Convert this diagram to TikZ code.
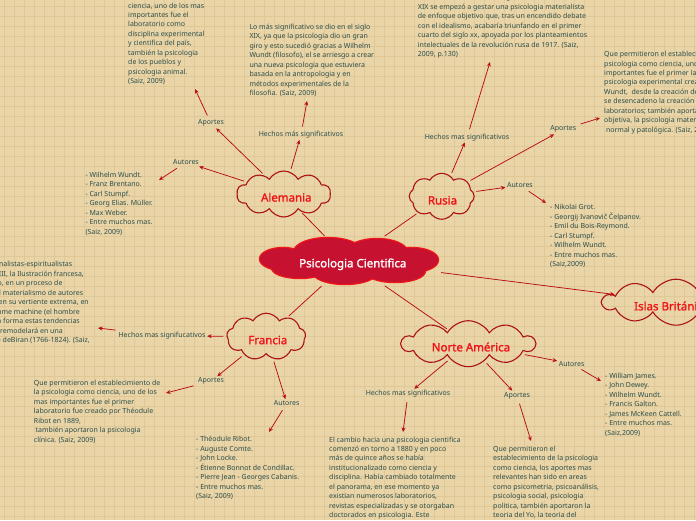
\documentclass[tikz,border=0pt]{standalone}
\usepackage{fontspec}
\setmainfont{Noto Sans}
\newfontfamily\cloudfont{Noto Sans}[FakeBold=1.6]
\usetikzlibrary{shapes.symbols,arrows.meta}
\definecolor{bgc}{RGB}{233,213,168}
\definecolor{gridc}{RGB}{224,200,150}
\definecolor{tcol}{RGB}{45,78,74}
\definecolor{linkc}{RGB}{185,12,22}
\definecolor{cloudline}{RGB}{172,18,24}
\definecolor{cloudtext}{RGB}{238,20,24}
\definecolor{centralfill}{RGB}{198,18,48}
\definecolor{centralline}{RGB}{242,22,22}
\tikzset{
  country/.style={cloud, cloud puffs=10, cloud puff arc=120, cloud ignores aspect, draw=cloudline, line width=1.1pt, inner sep=0pt},
  ctext/.style={font=\fontsize{11.5}{13}\cloudfont, text=cloudtext, inner sep=0pt},
  lab/.style={font=\fontsize{7}{9.45}\selectfont, text=tcol, inner sep=1.5pt},
  txt/.style={font=\fontsize{7}{9.45}\selectfont, text=tcol, align=left, inner sep=0pt, anchor=base west},
  rtxt/.style={font=\fontsize{7}{9.45}\selectfont, text=tcol, inner sep=0pt, anchor=base east},
  link/.style={draw=linkc, line width=0.75pt, shorten <=2pt, shorten >=2pt},
  arr/.style={draw=linkc, line width=0.75pt, -{Stealth[length=4.5pt,width=4pt]}, shorten <=3pt},
}
\begin{document}
\begin{tikzpicture}[x=1pt,y=-1pt]
\useasboundingbox (0,0) rectangle (696,520);
\clip (0,0) rectangle (696,520);
\fill[bgc] (0,0) rectangle (696,520);
\foreach \i in {4,14,...,694} \draw[gridc, line width=0.6pt] (\i,0) -- (\i,520);
\foreach \j in {6,16,...,516} \draw[gridc, line width=0.6pt] (0,\j) -- (696,\j);

% central cloud (union of lobes)
\foreach \cx/\cy/\rx/\ry in {283/259/23/11, 328/252/34/14, 377/252/30/13, 412/260/26/12, 300/268/28/10, 345/272/32/12, 395/271/30/11}
  \draw[centralline, line width=2.4pt] (\cx,\cy) ellipse [x radius=\rx, y radius=\ry];
\foreach \cx/\cy/\rx/\ry in {283/259/23/11, 328/252/34/14, 377/252/30/13, 412/260/26/12, 300/268/28/10, 345/272/32/12, 395/271/30/11, 349/261/75/15}
  \fill[centralfill] (\cx,\cy) ellipse [x radius=\rx, y radius=\ry];
\node[minimum width=178pt, minimum height=47pt, inner sep=0pt] (central) at (349,261) {};
\node[ctext, text=white] (centralT) at (352.8,264.3) {Psicologia Cientifica};

% country clouds
\node[country, minimum width=94pt, minimum height=46pt] (alemania) at (283.7,194) {};
\node[ctext] (alemaniaT) at (286.3,197.3) {Alemania};
\node[country, cloud puffs=8, minimum width=65pt, minimum height=46pt] (rusia) at (441.7,196.3) {};
\node[ctext] (rusiaT) at (442.5,200.3) {Rusia};
\node[country, cloud puffs=9, minimum width=79pt, minimum height=47pt] (francia) at (266.2,336.7) {};
\node[ctext] (franciaT) at (267.8,340) {Francia};
\node[country, minimum width=133pt, minimum height=46pt] (na) at (468.3,343.7) {};
\node[ctext] (naT) at (471,347) {Norte América};
\node[country, minimum width=146pt, minimum height=46pt] (islas) at (676,302.2) {};
\node[ctext, anchor=west] (islasT) at (634,306) {Islas Británicas};

% connectors from centre
\draw[link] (central) -- (alemania);
\draw[link] (central) -- (rusia);
\draw[link] (central) -- (francia);
\draw[link] (central) -- (na);
\draw[arr, shorten >=1pt] (central) -- (islas);

% ---------- Alemania ----------
\node[lab] (aportesA) at (211,123.3) {Aportes};
\node[lab] (autoresA) at (186,162.3) {Autores};
\node[lab] (hechosA) at (301,134.7) {Hechos más significativos};
\coordinate (tAportesA) at (195,89);
\coordinate (tAutoresA) at (159,180);
\coordinate (tHechosA) at (307,101);
\draw[arr] (alemania) -- (aportesA);
\draw[arr] (alemania) -- (autoresA);
\draw[arr] (alemania) -- (hechosA);
\draw[arr] (aportesA) -- (tAportesA);
\draw[arr] (autoresA) -- (tAutoresA);
\draw[arr] (hechosA) -- (tHechosA);
\node[txt] (aportesAT) at (128,83.6) {la psicologia como\\ciencia, uno de los mas\\importantes fue el\\laboratorio como\\disciplina experimental\\y cientifica del país,\\también la psicologia\\de los pueblos y\\psicologia animal.\\(Saiz, 2009)};
\node[txt] (hechosAT) at (249.3,95.6) {Lo más significativo se dio en el siglo\\XIX, ya que la psicologia dio un gran\\giro y esto sucedió gracias a Wilhelm\\Wundt (filosofo), el se arriesgo a crear\\una nueva psicologia que estuviera\\basada en la antropologia y en\\métodos experimentales de la\\filosofia. (Saiz, 2009)};
\node[txt] (autoresAT) at (85.3,234.2) {- Wilhelm Wundt.\\- Franz Brentano.\\- Carl Stumpf.\\- Georg Elias. Müller.\\- Max Weber.\\- Entre muchos mas.\\(Saiz, 2009)};

% ---------- Rusia ----------
\node[lab] (hechosR) at (467,137.3) {Hechos mas significativos};
\node[lab] (aportesR) at (563.3,129.3) {Aportes};
\node[lab] (autoresR) at (520,185.3) {Autores};
\coordinate (tHechosR) at (490,62);
\coordinate (tAportesR) at (600,118);
\coordinate (tAutoresR) at (546,203);
\draw[arr] (rusia) -- (hechosR);
\draw[arr] (rusia) -- (aportesR);
\draw[arr] (rusia) -- (autoresR);
\draw[arr] (hechosR) -- (tHechosR);
\draw[arr] (aportesR) -- (tAportesR);
\draw[arr] (autoresR) -- (tAutoresR);
\node[txt] (hechosRT) at (417.7,56.6) {En Rusia, a mediados del siglo\\XIX se empezó a gestar una psicologia materialista\\de enfoque objetivo que, tras un encendido debate\\con el idealismo, acabaría triunfando en el primer\\cuarto del siglo xx, apoyada por los planteamientos\\intelectuales de la revolución rusa de 1917. (Saiz,\\2009, p.130)};
\node[txt] (aportesRT) at (604,132.2) {Que permitieron el establecimiento de la\\psicologia como ciencia, uno de los mas\\importantes fue el primer laboratorio de\\psicologia experimental creado por Wilhelm\\Wundt,\ \ desde la creación de este laboratorio\\se desencadeno la creación de muchos otros\\laboratorios; también aportaron la psicologia\\objetiva, la psicologia materialista\\\hspace*{1.8pt}normal y patológica. (Saiz, 2009)};
\node[txt] (autoresRT) at (550,266.6) {- Nikolai Grot.\\- Georgij Ivanovič Čelpanov.\\- Emil du Bois-Reymond.\\- Carl Stumpf.\\- Wilhelm Wundt.\\- Entre muchos mas.\\(Saiz,2009)};

% ---------- Francia ----------
\node[lab] (hechosF) at (162,335.7) {Hechos mas signifucativos};
\node[lab] (aportesF) at (211,381.3) {Aportes};
\node[lab] (autoresF) at (286.7,403.3) {Autores};
\coordinate (tHechosF) at (98,328);
\coordinate (tAportesF) at (166,393);
\coordinate (tAutoresF) at (269,432);
\draw[arr] (francia) -- (hechosF);
\draw[arr] (francia) -- (aportesF);
\draw[arr] (francia) -- (autoresF);
\draw[arr] (hechosF) -- (tHechosF);
\draw[arr] (aportesF) -- (tAportesF);
\draw[arr] (autoresF) -- (tAutoresF);
\node[rtxt] (hechosFT1) at (72.3,266.7) {Las tendencias racionalistas-espiritualistas};
\node[rtxt] (hechosFT2) at (84,276.3) {del siglo XVIII, la Ilustración francesa,};
\node[rtxt] (hechosFT3) at (62.7,285.7) {darán paso, en un proceso de};
\node[rtxt] (hechosFT4) at (83.3,295.3) {radicalización, al materialismo de autores};
\node[rtxt] (hechosFT5) at (89,304.7) {como La Mettrie, en su vertiente extrema, en};
\node[rtxt] (hechosFT6) at (80,314.3) {su obra L'homme machine (el hombre};
\node[rtxt] (hechosFT7) at (80,323.7) {máquina). De alguna forma estas tendencias};
\node[rtxt] (hechosFT8) at (63,333) {se recogerán y remodelará en una};
\node[rtxt] (hechosFT9) at (90,342.3) {síntesis por Maine deBiran (1766-1824). (Saiz,};
\node[txt] (aportesFT) at (33.7,442.2) {Que permitieron el establecimiento de\\la psicologia como ciencia, uno de los\\mas importantes fue el primer\\laboratorio fue creado por Théodule\\Ribot en 1889,\\\hspace*{1.8pt}también aportaron la psicologia\\clínica. (Saiz, 2009)};
\node[txt] (autoresFT) at (196,498.6) {- Théodule Ribot.\\- Auguste Comte.\\- John Locke.\\- Étienne Bonnot de Condillac.\\- Pierre Jean - Georges Cabanis.\\- Entre muchos mas.\\(Saiz, 2009)};

% ---------- Norte America ----------
\node[lab] (hechosN) at (408,394) {Hechos mas significativos};
\node[lab] (aportesN) at (517,395.7) {Aportes};
\node[lab] (autoresN) at (571.7,363.7) {Autores};
\coordinate (tHechosN) at (403,432);
\coordinate (tAportesN) at (531,441);
\coordinate (tAutoresN) at (601,381);
\draw[arr] (na) -- (hechosN);
\draw[arr] (na) -- (aportesN);
\draw[arr] (na) -- (autoresN);
\draw[arr] (hechosN) -- (tHechosN);
\draw[arr] (aportesN) -- (tAportesN);
\draw[arr] (autoresN) -- (tAutoresN);
\node[txt] (hechosNT) at (329,517.6) {El cambio hacia una psicologia cientifica\\comenzó en torno a 1880 y en poco\\más de quince años se había\\institucionalizado como ciencia y\\disciplina. Había cambiado totalmente\\el panorama, en ese momento ya\\existian numerosos laboratorios,\\revistas especializadas y se otorgaban\\doctorados en psicologia. Este};
\node[txt] (aportesNT) at (493,517.6) {Que permitieron el\\establecimiento de la psicologia\\como ciencia, los aportes mas\\relevantes han sido en areas\\como psicometria, psicoanálisis,\\psicologia social, psicologia\\politica, también aportaron la\\teoria del Yo, la teoria del};
\node[txt] (autoresNT) at (605,435.2) {- William James.\\- John Dewey.\\- Wilhelm Wundt.\\- Francis Galton.\\- James McKeen Cattell.\\- Entre muchos mas.\\(Saiz,2009)};
\end{tikzpicture}
\end{document}
